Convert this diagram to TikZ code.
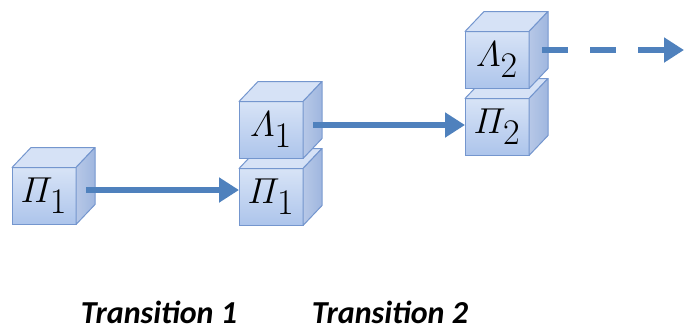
\documentclass[tikz,border=0pt]{standalone}
\usepackage{amsmath}
\usepackage{graphicx}
\usepackage{fontspec}
\newfontfamily\labelfont{Carlito}
\usetikzlibrary{arrows.meta}

\definecolor{flowblue}{HTML}{4F81BD}
\definecolor{cubeline}{HTML}{7496CE}
\definecolor{cubefront}{HTML}{B0C8EE}
\definecolor{cubetop}{HTML}{D6E2F6}
\definecolor{cubeside}{HTML}{9FB6DF}
\newcommand{\cubelabel}[2]{\scalebox{1.45}{\Huge$#1_{\raisebox{-2pt}{$\textstyle #2$}}$}}

\begin{document}
\begin{tikzpicture}[x=1pt,y=-1pt,
  cube/.style={draw=cubeline, line width=1pt, rectangle, inner sep=0pt, outer sep=0pt,
    minimum width=64pt, minimum height=57pt, top color=cubefront!50!white, bottom color=cubefront!80!cubeside},
  face/.style={draw=cubeline, line width=1pt, line join=round},
  flow/.style={draw=flowblue, line width=6pt, -{Triangle[length=20pt,width=24pt]}},
  trans/.style={inner sep=0pt, anchor=base, font=\labelfont\bfseries\itshape\fontsize{32}{36}\selectfont}]
\useasboundingbox (0,0) rectangle (684,330);
% the cubes, lower ones first
\foreach \n/\x/\y/\s/\k in {P1a/44/196/\varPi/1, P1b/271/197/\varPi/1, L1/271/130/\varLambda/1,
                            P2/497/127/\varPi/2, L2/497/60/\varLambda/2} {
   \node[cube] (\n) at (\x,\y) {\cubelabel{\s}{\k}};
   \filldraw[face, fill=cubetop] (\n.north west) -- ++(19,-20) -- ++(64,0) -- (\n.north east) -- cycle;
   \shade[face, left color=cubeside!75!white, right color=cubeside] (\n.north east) -- ++(19,-20) -- ++(0,57) -- (\n.south east) -- cycle;
}
\coordinate (a1) at ([xshift=10pt,yshift=6pt]P1a.east);
\coordinate (a2) at ([xshift=10pt,yshift=5pt]L1.east);
\coordinate (a3) at ([xshift=13pt,yshift=10pt]L2.east);
\coordinate (out) at (684,50);
\draw[flow] (a1) -- (a1 -| P1b.west);
\draw[flow] (a2) -- (a2 -| P2.west);
\draw[flow, dash pattern=on 26pt off 22pt] (a3) -- (out);
\node[trans] (T1) at (159,323) {Transition 1};
\node[trans] (T2) at (390,323) {Transition 2};
\end{tikzpicture}
\end{document}
